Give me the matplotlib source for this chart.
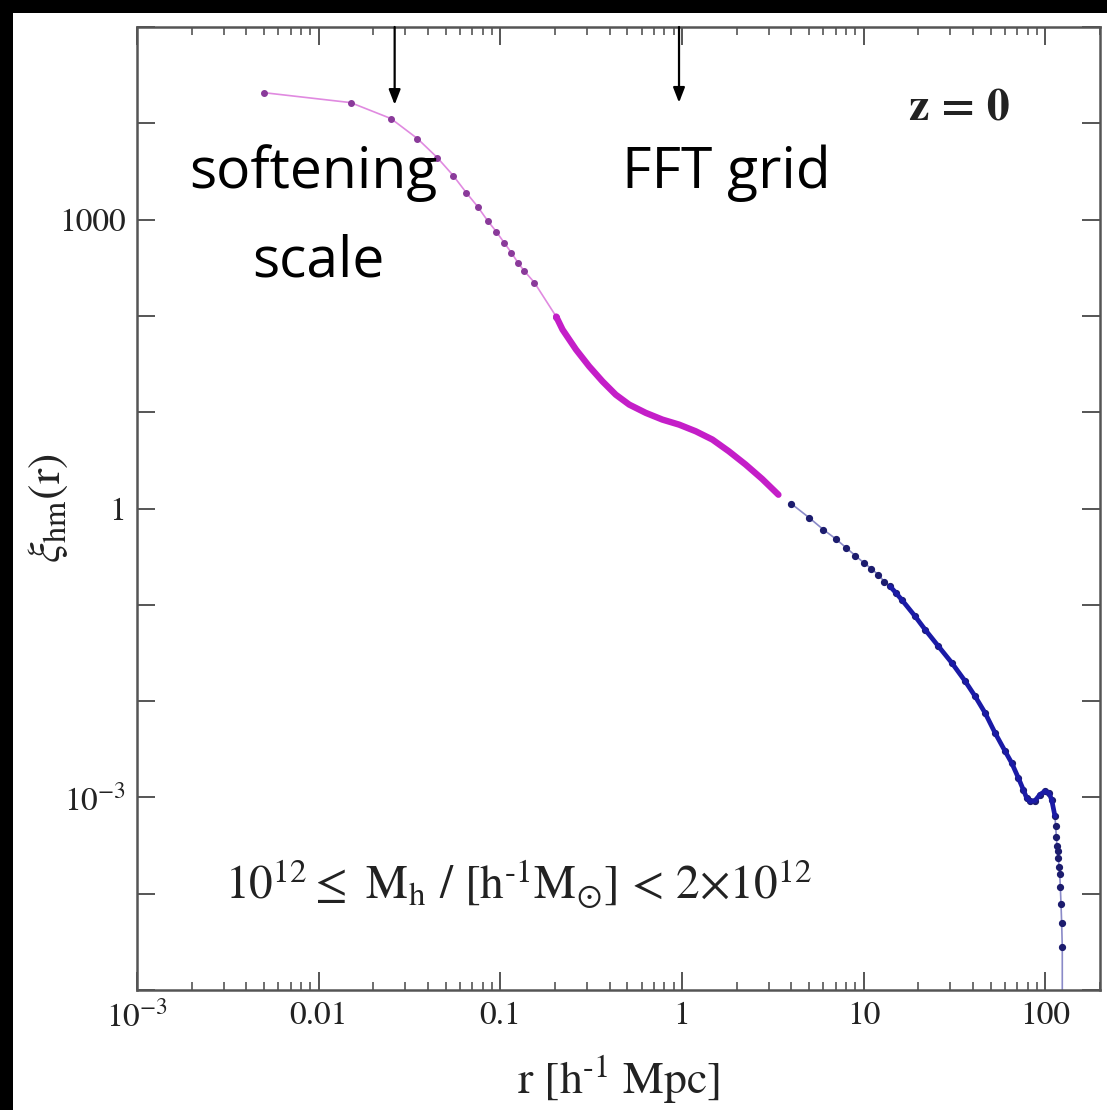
import numpy as np
import matplotlib
matplotlib.use('Agg')
import matplotlib.pyplot as plt
import matplotlib.ticker as ticker
from matplotlib.patches import Rectangle

# ── data ──────────────────────────────────────────────────────────────────
# magenta branch (fine r grid, small scales)
r_mag  = [0.005, 0.015, 0.025, 0.035, 0.045, 0.055, 0.065, 0.075, 0.085,
          0.095, 0.105, 0.115, 0.125, 0.135, 0.154, 0.203, 0.220, 0.261,
          0.308, 0.365, 0.432, 0.512, 0.632, 0.780, 0.964, 1.19, 1.47,
          1.81, 2.24, 2.76, 3.395]
xi_mag = [20800, 16400, 11200, 6930, 4400, 2870, 1900, 1365, 977,
          750, 575, 454, 357, 295, 222, 98.4, 72.1, 44.7,
          30.0, 20.9, 15.2, 12.0, 9.84, 8.38, 7.43, 6.34, 5.20,
          3.93, 2.86, 2.03, 1.39]

# blue branch (coarse r grid, large scales)
r_blu  = [4, 5, 6, 7, 8, 9, 10, 11, 12, 13, 14, 15, 16.2, 19.2, 21.8,
          25.8, 30.6, 36.2, 41.1, 46.6, 52.9, 60.1, 65.3, 71.1, 75.7,
          78.9, 82.4, 87.8, 93.5, 99.6, 104.7, 108.3, 113, 114, 115, 116,
          117, 118, 119, 120, 121, 122, 123, 124, 125]
xi_blu = [1.12, 0.805, 0.604, 0.486, 0.392, 0.324, 0.274, 0.238, 0.206,
          0.174, 0.155, 0.134, 0.113, 0.0760, 0.0552,
          0.0371, 0.0249, 0.0161, 0.0112, 0.00754, 0.00467, 0.00301,
          0.00228, 0.00159, 0.00120,
          0.000988, 0.000910, 0.000926, 0.00107, 0.00116, 0.00111,
          0.00095, 6.4e-4, 5.0e-4, 3.9e-4, 3.1e-4,
          2.75e-4, 2.35e-4, 1.9e-4, 1.6e-4, 1.17e-4, 7.8e-5, 5.0e-5,
          2.8e-5, -1e-5]

x_ticks  = [1e-3, 0.01, 0.1, 1, 10, 100]
x_labels = [r'$10^{-3}$', '0.01', '0.1', '1', '10', '100']
y_ticks  = [1e-3, 1, 1000]
y_labels = [r'$10^{-3}$', '1', '1000']

plt.rcParams.update({
    'font.family': 'STIXGeneral',
    'mathtext.fontset': 'stix',
    'axes.linewidth': 1.8,
    'axes.edgecolor': '#555555',
})

W, H = 1107, 1110
fig = plt.figure(figsize=(W/100, H/100), dpi=100, facecolor='black')
fig.patches.append(Rectangle((13/W, 0), 1, 1 - 13/H, transform=fig.transFigure,
                             facecolor='white', edgecolor='none', zorder=-10))
ax = fig.add_axes([137/W, 1 - 990/H, (1100-137)/W, (990-27)/H])
ax.set_zorder(2)

ax.set_xscale('log')
ax.set_yscale('log', nonpositive='clip')
ax.set_xlim(1e-3, 200)
ax.set_ylim(1e-5, 1e5)

r_mag_a, xi_mag_a = np.array(r_mag), np.array(xi_mag)
r_blu_a, xi_blu_a = np.array(r_blu), np.array(xi_blu)

# magenta: thin line + dots, thick where points are dense
ax.plot(r_mag_a, xi_mag_a, color='#e08ae0', lw=1.2, zorder=2)
sm = r_mag_a <= 0.21
ax.plot(r_mag_a[sm], xi_mag_a[sm], ls='none', marker='o', ms=4,
        color='#8a3a9a', zorder=3)
dm = r_mag_a >= 0.2
ax.plot(r_mag_a[dm], xi_mag_a[dm], color='#c41ec8', lw=4.6,
        solid_capstyle='round', solid_joinstyle='round', zorder=4)

# blue: thin line + dots, thick in the dense middle part
ax.plot(r_blu_a, xi_blu_a, color='#8a8ac8', lw=1.2, zorder=2)
pos = xi_blu_a > 0
ax.plot(r_blu_a[pos], xi_blu_a[pos], ls='none', marker='o', ms=4.2,
        color='#1c1c6e', zorder=3)
db = (r_blu_a >= 14) & (r_blu_a <= 113)
ax.plot(r_blu_a[db], xi_blu_a[db], color='#1a1aa6', lw=3.4,
        solid_capstyle='round', solid_joinstyle='round', zorder=4)

# ticks
ax.set_xticks(x_ticks)
ax.set_xticklabels(x_labels)
ax.xaxis.set_minor_locator(ticker.LogLocator(base=10, subs=np.arange(2, 10)))
ax.xaxis.set_minor_formatter(ticker.NullFormatter())
ax.set_yticks([10.0**k for k in range(-5, 6)])
ax.set_yticklabels(['' if 10.0**k not in y_ticks else
                    y_labels[y_ticks.index(10.0**k)] for k in range(-5, 6)])
ax.yaxis.set_minor_locator(ticker.NullLocator())
ax.tick_params(which='both', direction='in', top=True, right=True,
               labelsize=24, colors='#555555', labelcolor='#222222')
ax.tick_params(which='major', length=13, width=1.4, pad=8)
ax.tick_params(which='minor', length=6, width=1.2)

ax.set_xlabel(r'r [h$^{\text{-}1}$ Mpc]', fontsize=33, color='#222222')
ax.xaxis.set_label_coords(0.5, -0.066)
ax.set_ylabel(r'$\xi_{\mathrm{hm}}(\mathrm{r})$', fontsize=33,
              color='#222222')
ax.yaxis.set_label_coords(-0.07, 0.5)

# annotations
ax.text((909-137)/963, (990-110)/963, 'z = 0', transform=ax.transAxes,
        fontsize=33, fontweight='bold', color='#222222',
        va='center', ha='left')
ax.text((225-137)/963, (990-884)/963,
        r'10$^{12}\leq$ M$_{\mathrm{h}}$ / [h$^{\text{-}1}$M$_{\odot}$] < 2$\times$10$^{12}$',
        transform=ax.transAxes, fontsize=34, color='#222222',
        va='center', ha='left')

sans = ['Open Sans', 'DejaVu Sans']
fig.text(313/W, 1 - 173/H, 'softening', fontsize=41, family=sans,
         ha='center', va='center', zorder=5)
fig.text(318/W, 1 - 262/H, 'scale', fontsize=41, family=sans,
         ha='center', va='center', zorder=5)
fig.text(726/W, 1 - 173/H, 'FFT grid', fontsize=41, family=sans,
         ha='center', va='center', zorder=5)

for xa, ya in [(0.0262, 15600), (0.963, 16400)]:
    ax.annotate('', xy=(xa, ya), xytext=(xa, 1e5), xycoords='data',
                textcoords='data',
                arrowprops=dict(arrowstyle='-|>,head_length=0.9,head_width=0.35',
                                color='black', lw=1.6, shrinkA=0, shrinkB=0),
                annotation_clip=False)

fig.savefig('out.png', dpi=100, facecolor=fig.get_facecolor())
